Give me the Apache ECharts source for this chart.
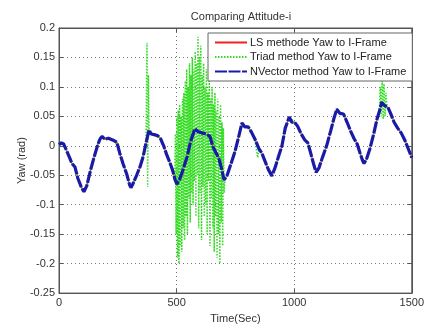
<!DOCTYPE html>
<html><head><meta charset="utf-8">
<script src="https://cdn.jsdelivr.net/npm/echarts@6/dist/echarts.min.js"></script>
<style>html,body{margin:0;padding:0;background:#fff}#c{width:427px;height:329px}</style>
</head><body><div id="c"></div>
<script>
const titleText = 'Comparing Attitude-i';
const seriesNames = ['LS methode Yaw to I-Frame', 'Triad method Yaw to I-Frame', 'NVector method Yaw to I-Frame'];
const xTicks = [0, 500, 1000, 1500];
const yTicks = [-0.25, -0.2, -0.15, -0.1, -0.05, 0, 0.05, 0.1, 0.15, 0.2];

const nvYaw = [[0,0.002],[10,0.005],[20,0.003],[30,-0.006],[45,-0.02],[55,-0.03],[68,-0.036],[80,-0.055],[95,-0.07],[106,-0.078],[118,-0.068],[135,-0.04],[150,-0.018],[165,0.002],[175,0.012],[183,0.016],[195,0.011],[210,0.013],[228,0.01],[246,0.006],[258,-0.012],[272,-0.03],[288,-0.048],[300,-0.066],[306,-0.071],[315,-0.064],[330,-0.05],[345,-0.035],[358,-0.018],[370,0.005],[383,0.027],[392,0.02],[405,0.019],[420,0.017],[432,0.012],[445,0.0],[458,-0.015],[470,-0.027],[482,-0.04],[494,-0.058],[501,-0.065],[512,-0.058],[528,-0.04],[545,-0.018],[560,0.008],[578,0.029],[592,0.024],[608,0.022],[625,0.02],[642,0.016],[655,-0.002],[668,-0.012],[680,-0.022],[692,-0.04],[702,-0.058],[715,-0.05],[730,-0.032],[748,-0.01],[762,0.012],[778,0.039],[790,0.032],[805,0.032],[820,0.022],[835,0.01],[850,-0.005],[862,-0.012],[875,-0.025],[890,-0.04],[905,-0.051],[918,-0.038],[932,-0.02],[948,0.0],[962,0.03],[979,0.049],[990,0.04],[1002,0.04],[1015,0.033],[1030,0.02],[1045,0.01],[1058,0.005],[1070,-0.012],[1082,-0.03],[1093,-0.045],[1105,-0.038],[1120,-0.02],[1138,0.0],[1155,0.025],[1168,0.045],[1181,0.062],[1195,0.055],[1210,0.054],[1225,0.04],[1240,0.025],[1255,0.012],[1268,0.003],[1280,-0.012],[1290,-0.024],[1297,-0.03],[1308,-0.022],[1322,-0.005],[1338,0.02],[1352,0.045],[1365,0.062],[1372,0.074],[1385,0.068],[1398,0.066],[1410,0.055],[1425,0.04],[1440,0.03],[1455,0.022],[1470,0.01],[1485,-0.005],[1500,-0.02]];

const lsYaw = [[0,0.002],[10,0.005],[20,0.003],[30,-0.006],[45,-0.02],[55,-0.03],[68,-0.036],[80,-0.055],[95,-0.07],[106,-0.078],[118,-0.068],[135,-0.04],[150,-0.018],[165,0.002],[175,0.012],[183,0.016],[195,0.011],[210,0.013],[228,0.01],[246,0.006],[258,-0.012],[272,-0.03],[288,-0.048],[300,-0.066],[306,-0.071],[315,-0.064],[330,-0.05],[345,-0.035],[358,-0.018],[370,0.005],[383,0.027],[392,0.02],[405,0.019],[420,0.017],[432,0.012],[445,0.0],[458,-0.015],[470,-0.027],[482,-0.04],[494,-0.058],[501,-0.065],[512,-0.058],[528,-0.04],[545,-0.018],[560,0.008],[578,0.029],[592,0.024],[608,0.022],[625,0.02],[642,0.016],[655,-0.002],[668,-0.012],[680,-0.022],[692,-0.04],[702,-0.058],[715,-0.05],[730,-0.032],[748,-0.01],[762,0.012],[778,0.039],[790,0.032],[805,0.032],[820,0.022],[835,0.01],[850,-0.005],[862,-0.012],[875,-0.025],[890,-0.04],[905,-0.051],[918,-0.038],[932,-0.02],[948,0.0],[962,0.03],[979,0.049],[990,0.04],[1002,0.04],[1015,0.033],[1030,0.02],[1045,0.01],[1058,0.005],[1070,-0.012],[1082,-0.03],[1093,-0.045],[1105,-0.038],[1120,-0.02],[1138,0.0],[1155,0.025],[1168,0.045],[1181,0.062],[1195,0.055],[1210,0.054],[1225,0.04],[1240,0.025],[1255,0.012],[1268,0.003],[1280,-0.012],[1290,-0.024],[1297,-0.03],[1308,-0.022],[1322,-0.005],[1338,0.02],[1352,0.045],[1365,0.062],[1372,0.074],[1385,0.068],[1398,0.066],[1410,0.055],[1425,0.04],[1440,0.03],[1455,0.022],[1470,0.01],[1485,-0.005],[1500,-0.02]];

const triadYaw = [[0,0.002],[10,0.006],[20,0.003],[30,-0.006],[45,-0.02],[55,-0.03],[68,-0.036],[80,-0.055],[95,-0.07],[106,-0.078],[118,-0.068],[135,-0.04],[150,-0.018],[165,0.002],[175,0.012],[183,0.017],[195,0.011],[210,0.013],[228,0.01],[246,0.006],[258,-0.012],[272,-0.03],[288,-0.048],[300,-0.066],[306,-0.071],[315,-0.064],[330,-0.05],[345,-0.035],[358,-0.018],[370,0.005],[374,0.175],[377,-0.07],[380,0.12],[383,0.027],[392,0.02],[405,0.019],[420,0.017],[432,0.012],[445,0.0],[458,-0.015],[470,-0.027],[482,-0.04],
[488,-0.04],[492,-0.06],[495,0.02],[498,-0.15],[501,0.05],[504,-0.19],[507,0.06],[510,-0.2],[513,0.07],[516,-0.17],[519,0.05],[522,-0.18],[525,0.08],[528,-0.14],[531,0.09],[534,-0.16],[537,0.11],[540,-0.12],[543,0.13],[546,-0.15],[549,0.1],[552,-0.09],[555,0.14],[558,-0.13],[561,0.12],[564,-0.08],[567,0.15],[570,-0.1],[573,0.13],[576,-0.06],[579,0.16],[582,-0.12],[585,0.14],[588,-0.05],[591,0.185],[594,-0.14],[597,0.15],[600,-0.08],[603,0.17],[606,-0.16],[609,0.12],[612,-0.07],[615,0.14],[618,-0.12],[621,0.1],[624,-0.1],[627,0.13],[630,-0.15],[633,0.09],[636,-0.06],[639,0.11],[642,-0.17],[645,0.08],[648,-0.09],[651,0.1],[654,-0.14],[657,0.07],[660,-0.18],[663,0.09],[666,-0.12],[669,0.06],[672,-0.19],[675,0.08],[678,-0.15],[681,0.05],[684,-0.2],[687,0.07],[690,-0.13],[693,0.04],[696,-0.17],[699,0.03],[702,-0.08],[706,-0.055],
[715,-0.05],[730,-0.032],[748,-0.01],[762,0.012],[778,0.039],[790,0.032],[805,0.034],[820,0.022],[835,0.005],[845,-0.02],[850,-0.005],[862,-0.012],[875,-0.025],[890,-0.04],[905,-0.051],[918,-0.038],[932,-0.02],[948,0.0],[962,0.03],[979,0.05],[990,0.045],[1002,0.04],[1015,0.033],[1030,0.02],[1045,0.01],[1058,0.005],[1070,-0.012],[1082,-0.03],[1093,-0.045],[1105,-0.038],[1120,-0.02],[1138,0.0],[1155,0.025],[1168,0.045],[1181,0.063],[1195,0.055],[1210,0.054],[1225,0.04],[1240,0.025],[1255,0.012],[1268,0.003],[1280,-0.012],[1290,-0.024],[1297,-0.03],[1308,-0.022],[1322,-0.005],[1338,0.02],[1352,0.045],[1362,0.06],[1366,0.1],[1370,0.05],[1374,0.11],[1378,0.045],[1382,0.105],[1386,0.05],[1390,0.09],[1395,0.066],[1410,0.055],[1425,0.04],[1440,0.03],[1455,0.022],[1470,0.01],[1485,-0.005],[1500,-0.02]];

const font = 'Liberation Sans, Arial, sans-serif';
const fmt = v => String(parseFloat(v.toFixed(2)));
const gridLine = {show: true, lineStyle: {color: '#777', type: [1, 3], width: 1}};
const chart = echarts.init(document.getElementById('c'), null, {renderer: 'canvas'});
chart.setOption({
  animation: false,
  backgroundColor: '#fff',
  title: {text: titleText, left: 236, top: 6, textAlign: 'center',
    textStyle: {fontFamily: font, fontSize: 11, fontWeight: 'normal', color: '#333'}},
  grid: {left: 59, right: 15, top: 28, bottom: 27, show: true, borderColor: '#555', borderWidth: 1, backgroundColor: '#fff'},
  legend: {
    orient: 'vertical', left: 208, top: 33, data: seriesNames,
    itemWidth: 32, itemHeight: 12, itemGap: 3.5,
    padding: [4, 6, 4, 6],
    itemStyle: {opacity: 0},
    backgroundColor: '#fff', borderColor: '#666', borderWidth: 1,
    textStyle: {fontFamily: font, fontSize: 11, color: '#222', padding: [0, 0, 0, -2]}
  },
  xAxis: [{
    type: 'value', min: 0, max: 1500, interval: 500,
    name: 'Time(Sec)', nameLocation: 'middle', nameGap: 14,
    nameTextStyle: {fontFamily: font, fontSize: 11, color: '#333'},
    axisLine: {show: true, onZero: false, lineStyle: {color: '#555'}},
    axisTick: {show: true, inside: true, length: 4, lineStyle: {color: '#555'}},
    axisLabel: {fontFamily: font, fontSize: 11, color: '#333', margin: 4, formatter: fmt},
    splitLine: gridLine
  }, {
    type: 'value', min: 0, max: 1500, interval: 500, position: 'top',
    axisLine: {show: true, onZero: false, lineStyle: {color: '#555'}},
    axisTick: {show: true, inside: true, length: 4, lineStyle: {color: '#555'}},
    axisLabel: {show: false}, splitLine: {show: false}
  }],
  yAxis: [{
    type: 'value', min: -0.25, max: 0.2, interval: 0.05,
    name: 'Yaw (rad)', nameLocation: 'middle', nameGap: 32, nameMoveOverlap: false,
    nameTextStyle: {fontFamily: font, fontSize: 11, color: '#333'},
    axisLine: {show: true, onZero: false, lineStyle: {color: '#555'}},
    axisTick: {show: true, inside: true, length: 4, lineStyle: {color: '#555'}},
    axisLabel: {fontFamily: font, fontSize: 11, color: '#333', margin: 4, formatter: fmt},
    splitLine: gridLine
  }, {
    type: 'value', min: -0.25, max: 0.2, interval: 0.05, position: 'right',
    axisLine: {show: true, onZero: false, lineStyle: {color: '#555'}},
    axisTick: {show: true, inside: true, length: 4, lineStyle: {color: '#555'}},
    axisLabel: {show: false}, splitLine: {show: false}
  }],
  series: [
    {name: seriesNames[0], type: 'line', data: lsYaw, showSymbol: false, symbol: 'none',
      lineStyle: {color: '#ee2222', width: 1.2}, itemStyle: {color: '#ee2222'}, z: 2},
    {name: seriesNames[1], type: 'line', data: triadYaw, showSymbol: false, symbol: 'none',
      lineStyle: {color: '#33dd22', width: 1.5, type: [1.5, 1.5]}, itemStyle: {color: '#33dd22'}, z: 3},
    {name: seriesNames[2], type: 'line', data: nvYaw, showSymbol: false, symbol: 'none',
      lineStyle: {color: '#1a1aa8', width: 3.2, type: [12, 1.5]}, itemStyle: {color: '#1a1aa8'}, z: 4}
  ]
});
</script></body></html>
